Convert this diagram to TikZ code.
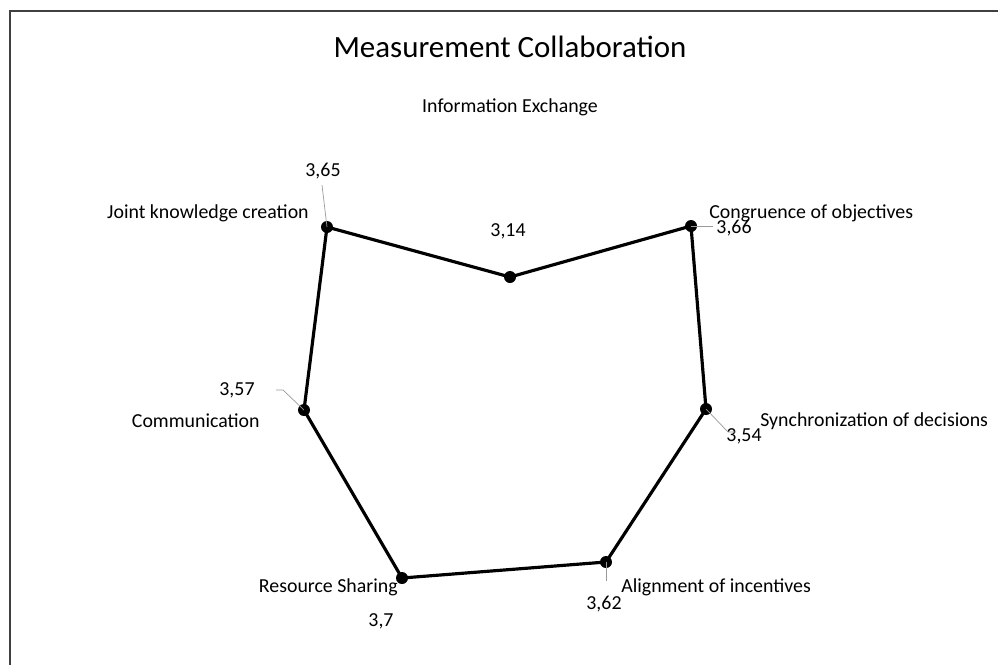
\documentclass[tikz,border=0pt]{standalone}
\usepackage{fontspec}
\setmainfont{Carlito}
\begin{document}
\begin{tikzpicture}[x=0.02cm,y=-0.02cm,
  lbl/.style={font=\fontsize{11.3pt}{13pt}\selectfont,inner sep=0pt,text=black},
  val/.style={font=\fontsize{11.3pt}{13pt}\selectfont,inner sep=0pt,text=black},
  dot/.style={circle,fill=black,inner sep=0pt,minimum size=0.24cm},
  leader/.style={draw=black!40,line width=0.4pt},
  poly/.style={line width=1.8pt,line join=round}]
\useasboundingbox (0,0) rectangle (998,664);
\clip (0,0) rectangle (998,664);
\draw[black!75,line width=1.6pt] (10,11) rectangle (1010,680);
\node[font=\fontsize{17.6pt}{20pt}\selectfont,inner sep=0pt] (title) at (510,47) {Measurement Collaboration};
% data points
\node[dot] (ie) at (510,277) {};
\node[dot] (co) at (691,226) {};
\node[dot] (sd) at (706,409) {};
\node[dot] (ai) at (606,562) {};
\node[dot] (rs) at (402,578) {};
\node[dot] (cm) at (304,410) {};
\node[dot] (jk) at (327,227) {};
\draw[poly] (ie.center) -- (co.center) -- (sd.center) -- (ai.center) -- (rs.center) -- (cm.center) -- (jk.center) -- cycle;
% category labels
\node[lbl] (lie) at (510,107) {Information Exchange};
\node[lbl,anchor=west] (lco) at (709,213) {Congruence of objectives};
\node[lbl,anchor=west] (lsd) at (760,421) {Synchronization of decisions};
\node[lbl,anchor=west] (lai) at (621,587) {Alignment of incentives};
\node[lbl,anchor=east] (lrs) at (398,587) {Resource Sharing};
\node[lbl,anchor=east] (lcm) at (260,421) {Communication};
\node[lbl,anchor=east] (ljk) at (309,213) {Joint knowledge creation};
% values
\node[val] (vie) at (508,231) {3,14};
\node[val] (vco) at (734,228) {3,66};
\node[val] (vsd) at (744,436) {3,54};
\node[val] (vai) at (604,604) {3,62};
\node[val] (vrs) at (381,621) {3,7};
\node[val] (vcm) at (237,390) {3,57};
\node[val] (vjk) at (323,171) {3,65};
% leaders
\coordinate (a1) at (322,185);
\draw[leader] (a1) -- (jk.center);
\coordinate (a2) at (713,226);
\draw[leader] (co.center) -- (a2);
\coordinate (a3) at (276,390);
\coordinate (a3b) at (283,390);
\draw[leader] (a3) -- (a3b) -- (cm.center);
\coordinate (a4) at (728,432);
\coordinate (a4b) at (736,432);
\draw[leader] (sd.center) -- (a4) -- (a4b);
\coordinate (a5) at (606,581);
\draw[leader] (ai.center) -- (a5);
\end{tikzpicture}
\end{document}
